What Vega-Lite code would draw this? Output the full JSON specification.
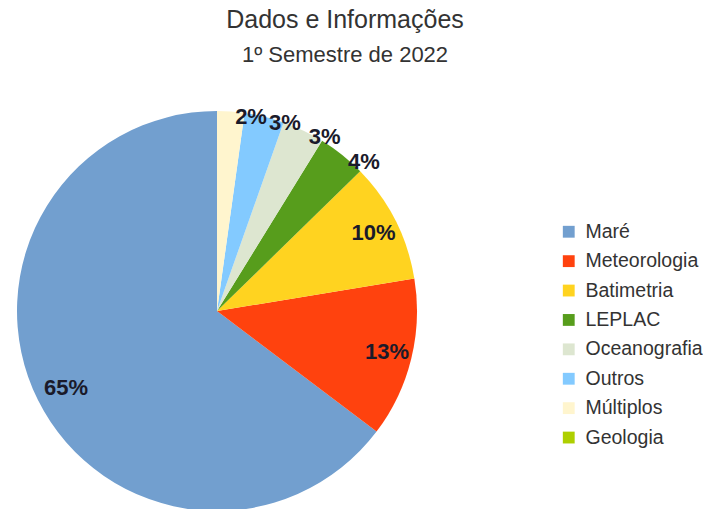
{
  "$schema": "https://vega.github.io/schema/vega-lite/v6.json",
  "width": 400,
  "height": 400,
  "padding": {"left": 17, "top": 8, "right": 0, "bottom": 0},
  "background": "white",
  "view": {"stroke": null},
  "title": {
    "text": "Dados e Informações",
    "subtitle": "1º Semestre de 2022",
    "anchor": "middle",
    "dx": 128,
    "font": "Liberation Sans",
    "subtitleFont": "Liberation Sans",
    "fontSize": 25,
    "subtitleFontSize": 22,
    "fontWeight": "normal",
    "color": "#333333",
    "subtitleColor": "#333333",
    "subtitlePadding": 12,
    "offset": 40
  },
  "data": {
    "values": [
      {"categoria": "Maré", "valor": 0.647},
      {"categoria": "Meteorologia", "valor": 0.129},
      {"categoria": "Batimetria", "valor": 0.097},
      {"categoria": "LEPLAC", "valor": 0.039},
      {"categoria": "Oceanografia", "valor": 0.034},
      {"categoria": "Outros", "valor": 0.032},
      {"categoria": "Múltiplos", "valor": 0.022},
      {"categoria": "Geologia", "valor": 0}
    ]
  },
  "encoding": {
    "theta": {"field": "valor", "type": "quantitative", "stack": true},
    "order": {"field": "valor", "type": "quantitative", "sort": "ascending"}
  },
  "layer": [
    {
      "mark": {"type": "arc"},
      "encoding": {
        "color": {
          "field": "categoria",
          "type": "nominal",
          "sort": ["Maré", "Meteorologia", "Batimetria", "LEPLAC", "Oceanografia", "Outros", "Múltiplos", "Geologia"],
          "scale": {
            "domain": ["Maré", "Meteorologia", "Batimetria", "LEPLAC", "Oceanografia", "Outros", "Múltiplos", "Geologia"],
            "range": ["#729fcf", "#ff420e", "#ffd320", "#579d1c", "#dde6d0", "#83caff", "#fff5ce", "#aecf00"]
          },
          "legend": {
            "title": null,
            "orient": "none",
            "legendX": 542,
            "legendY": 111,
            "labelFont": "Liberation Sans",
            "labelFontSize": 19.5,
            "labelColor": "#333333",
            "symbolType": "square",
            "symbolSize": 140,
            "symbolStrokeWidth": 0,
            "rowPadding": 8.4,
            "labelOffset": 7
          }
        }
      }
    },
    {
      "mark": {"type": "text", "radius": 172, "dx": 3, "dy": 0, "font": "Liberation Sans", "fontSize": 22, "fontWeight": "bold", "color": "#1a1a2a"},
      "encoding": {
        "text": {
          "condition": {"test": "datum.valor >= 0.05", "field": "valor", "type": "quantitative", "format": ".0%"},
          "value": ""
        }
      }
    },
    {
      "mark": {"type": "text", "radius": 203, "dx": 20, "dy": 9, "font": "Liberation Sans", "fontSize": 22, "fontWeight": "bold", "color": "#1a1a2a"},
      "encoding": {
        "text": {
          "condition": {"test": "datum.valor > 0 && datum.valor < 0.05", "field": "valor", "type": "quantitative", "format": ".0%"},
          "value": ""
        }
      }
    }
  ]
}
